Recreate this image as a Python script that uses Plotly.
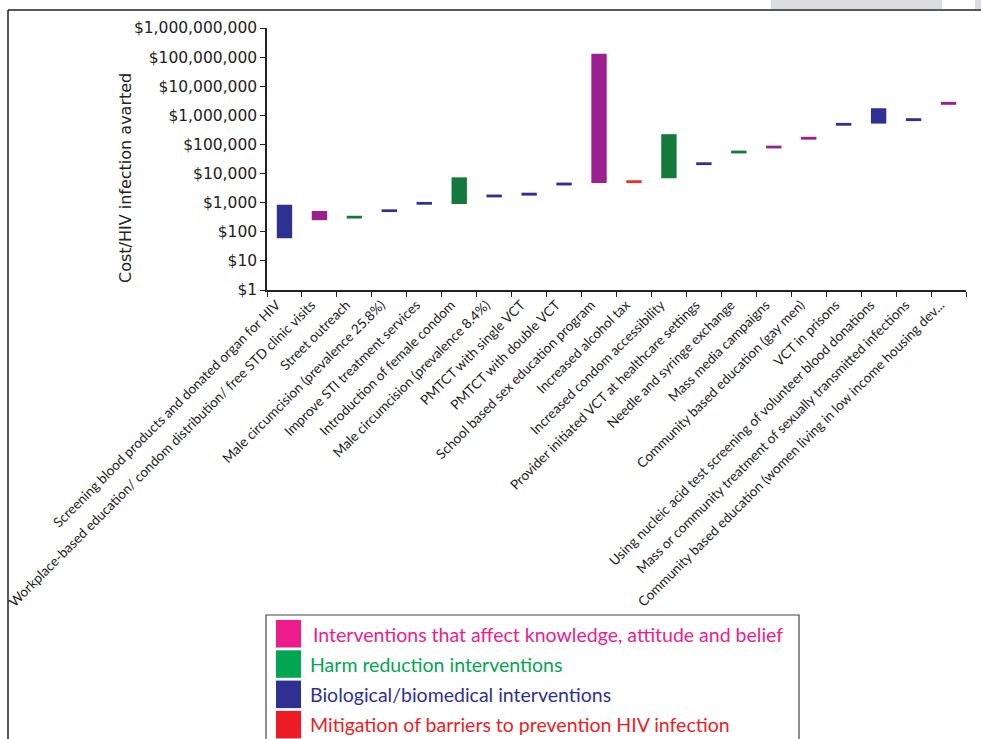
import plotly.graph_objects as go

categories = [
    "Screening blood products and donated organ for HIV",
    "Workplace-based education/ condom distribution/ free STD clinic visits",
    "Street outreach",
    "Male circumcision (prevalence 25.8%)",
    "Improve STI treatment services",
    "Introduction of female condom",
    "Male circumcision (prevalence 8.4%)",
    "PMTCT with single VCT",
    "PMTCT with double VCT",
    "School based sex education program",
    "Increased alcohol tax",
    "Increased condom accessibility",
    "Provider initiated VCT at healthcare settings",
    "Needle and syringe exchange",
    "Mass media campaigns",
    "Community based education (gay men)",
    "VCT in prisons",
    "Using nucleic acid test screening of volunteer blood donations",
    "Mass or community treatment of sexually transmitted infections",
    "Community based education (women living in low income housing dev...",
]
cost_low = [60, 250, 285, 475, 850, 900, 1520, 1750, 3900, 4700, 4700, 6900,
            19500, 49000, 73000, 146000, 440000, 520000, 635000, 2300000]
cost_high = [850, 520, 355, 590, 1060, 7400, 1900, 2200, 4900, 130000000, 5900, 225000,
             24400, 61500, 91000, 183000, 550000, 1750000, 795000, 2900000]
group = ["bio", "kab", "harm", "bio", "bio", "harm", "bio", "bio", "bio", "kab", "mit", "harm",
         "bio", "harm", "kab", "kab", "bio", "bio", "bio", "kab"]

group_keys = ["kab", "harm", "bio", "mit"]
group_names = ["Interventions that affect knowledge, attitude and belief",
               "Harm reduction interventions",
               "Biological/biomedical interventions",
               "Mitigation of barriers to prevention HIV infection"]
bar_colors = {"kab": "#9C1F8F", "harm": "#147A3C", "bio": "#2E3192", "mit": "#E8312F"}
legend_colors = {"kab": "#EC1C8C", "harm": "#00A651", "bio": "#2E3192", "mit": "#ED1C24"}

y_tickvals = [1, 10, 100, 1000, 10000, 100000, 1000000, 10000000, 100000000, 1000000000]
y_ticktext = ["$1", "$10", "$100", "$1,000", "$10,000", "$100,000", "$1,000,000",
              "$10,000,000", "$100,000,000", "$1,000,000,000"]

W, H = 981, 739
L, R, T, B = 267, 15, 28, 449
PW, PH = W - L - R, H - T - B


def px(x):
    return (x - L) / PW


def py(y):
    return (H - B - y) / PH


fig = go.Figure()
for g in group_keys:
    xs = [c for c, gg in zip(categories, group) if gg == g]
    lo = [v for v, gg in zip(cost_low, group) if gg == g]
    hi = [v for v, gg in zip(cost_high, group) if gg == g]
    fig.add_trace(go.Bar(
        x=xs, y=[h - l for h, l in zip(hi, lo)], base=lo,
        marker=dict(color=bar_colors[g], line=dict(width=0)),
        width=0.44, showlegend=False,
    ))

shapes = []
annotations = []
# page frame
shapes.append(dict(type="rect", xref="paper", yref="paper", x0=px(771), x1=px(942), y0=py(0), y1=py(9),
                   fillcolor="#DCDDDF", line=dict(width=0), layer="below"))
shapes.append(dict(type="rect", xref="paper", yref="paper", x0=px(975), x1=px(981), y0=py(0), y1=py(9),
                   fillcolor="#DCDDDF", line=dict(width=0), layer="below"))
shapes.append(dict(type="line", xref="paper", yref="paper", x0=px(8), x1=px(981), y0=py(10), y1=py(10),
                   line=dict(color="#222222", width=1.5)))
shapes.append(dict(type="line", xref="paper", yref="paper", x0=px(8), x1=px(8), y0=py(10), y1=py(739),
                   line=dict(color="#222222", width=1.5)))
# legend box
shapes.append(dict(type="rect", xref="paper", yref="paper", x0=px(266), x1=px(799), y0=py(615), y1=py(745),
                   fillcolor="white", line=dict(color="#444444", width=1.2)))
row0, rowstep = 620, 30.3
for i, (g, name) in enumerate(zip(group_keys, group_names)):
    top = row0 + i * rowstep
    shapes.append(dict(type="rect", xref="paper", yref="paper", x0=px(276), x1=px(301),
                       y0=py(top), y1=py(top + 27.5), fillcolor=legend_colors[g], line=dict(width=0)))
    annotations.append(dict(xref="paper", yref="paper", x=px(308 + (3 if i == 0 else 0)), y=py(top + 14),
                            text=name, showarrow=False, xanchor="left", yanchor="middle",
                            font=dict(family="Lato", size=19.5, color=legend_colors[g])))
# y axis title
annotations.append(dict(xref="paper", yref="paper", x=px(125), y=py(178), text="Cost/HIV infection avarted",
                        textangle=-90, showarrow=False, xanchor="center", yanchor="middle",
                        font=dict(family="DejaVu Sans", size=16, color="#222222")))

fig.update_layout(
    width=W, height=H, autosize=False,
    margin=dict(l=L, r=R, t=T, b=B, autoexpand=False),
    paper_bgcolor="white", plot_bgcolor="white",
    shapes=shapes, annotations=annotations,
    showlegend=False, bargap=0.5,
    xaxis=dict(type="category", categoryorder="array", categoryarray=categories,
               range=[-0.5, len(categories) - 0.5], tickson="boundaries", automargin=False,
               ticks="outside", ticklen=5, tickcolor="#222222", tickwidth=1.2,
               showline=True, linecolor="#222222", linewidth=1.5, showgrid=False,
               tickangle=-45, ticklabelshift=-8,
               tickfont=dict(family="Lato", size=13.6, color="#222222")),
    yaxis=dict(type="log", range=[0, 9], tickmode="array", tickvals=y_tickvals, ticktext=y_ticktext,
               automargin=False,
               ticks="outside", ticklen=5, tickcolor="#222222", tickwidth=1.2,
               showline=True, linecolor="#222222", linewidth=1.5, showgrid=False, zeroline=False,
               tickfont=dict(family="DejaVu Sans", size=15.5, color="#222222")),
)

fig.write_html("out.html")
